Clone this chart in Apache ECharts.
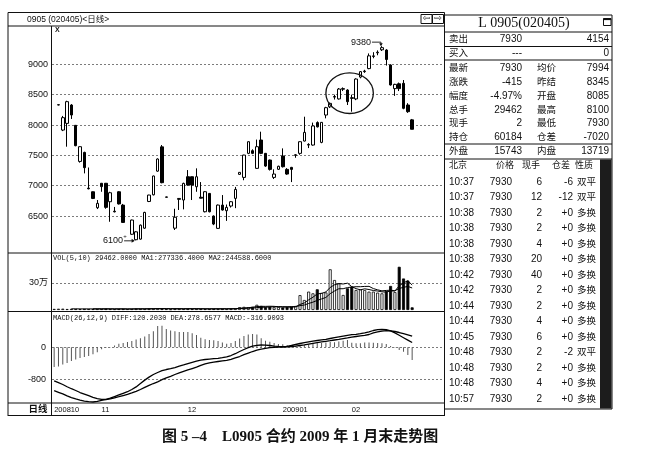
<!DOCTYPE html>
<html><head><meta charset="utf-8">
<script src="https://cdn.jsdelivr.net/npm/echarts@6/dist/echarts.min.js"></script>
<style>html,body{margin:0;padding:0;background:#fff}#c{width:651px;height:469px}</style>
</head><body><div id="c"></div>
<script>
// ---------- data ----------
const slotCount = 91;                       // category slots on the time axis
const tickIdx = [0, 11, 31, 53, 69];
const tickLabels = ['200810', '11', '12', '200901', '02'];
const priceTicks = [6500, 7000, 7500, 8000, 8500, 9000];
const volTicks = [300];                      // thousands (30万)
const macdTicks = [0, -800];
const GAP = ['-', '-', '-', '-'];
// [open, close, low, high]
const candles = [
  GAP,
  [8330,8335,8325,8340],[7917,8121,7900,8150],[8027,8385,7643,8400],[8330,8165,8100,8345],[7995,7660,7650,8000],
  [7400,7643,7380,7650],[7549,7297,7203,7560],[6960,6950,6940,7300],[6900,6790,6780,6905],[6637,6709,6615,6764],
  [7040,6985,6900,7045],[7040,6643,6620,7045],[6736,6884,6406,6900],[6580,6570,6560,6650],[6900,6700,6690,6910],
  [6680,6395,6390,6700],GAP,[6200,6434,6190,6440],[6110,6240,6100,6250],[6120,6350,6110,6360],
  [6300,6560,6290,6570],[6740,6846,6730,6850],[6850,7160,6840,7165],[7240,7440,7230,7450],[7640,7050,7040,7670],
  [6815,6810,6805,6820],GAP,[6300,6480,6270,6620],[6775,6790,6600,6795],[6764,7038,6610,7050],
  [7148,7011,7000,7258],[7148,7011,6764,7150],[6983,7148,6900,7286],[6810,6795,6790,7060],[6571,6901,6560,6910],
  [6873,6571,6560,6880],[6500,6368,6350,6510],[6297,6681,6290,6690],[6681,6599,6590,6846],[6588,6643,6420,6690],
  [6665,6736,6640,6745],[6791,6939,6630,6980],[7187,7220,7180,7225],[7137,7505,7090,7510],[7533,7725,7520,7730],
  [7577,7533,7520,7600],[7286,7643,7280,7760],[7753,7533,7520,7890],[7533,7324,7310,7540],[7423,7269,7250,7430],
  [7137,7192,7110,7270],[7270,7320,7260,7330],[7489,7313,7300,7615],[7269,7192,7180,7290],[7302,7269,7060,7310],
  [7500,7510,7460,7520],[7533,7725,7510,7730],[7736,7879,7730,8137],[7670,7680,7620,7700],[7670,7985,7660,8040],
  [8040,7970,7960,8060],[7714,8044,7700,8050],[8165,8286,8110,8300],[8300,8357,8280,8370],[8460,8470,8420,8500],
  [8430,8593,8420,8610],[8590,8600,8560,8620],[8577,8385,8330,8590],[8450,8440,8220,8500],[8430,8758,8410,8770],
  [8790,8880,8770,8890],[8880,8890,8860,8910],[8930,9140,8920,9180],[9130,9140,9100,9200],[9190,9200,9150,9230],
  [9240,9275,9220,9300],[9236,9080,8980,9250],[8989,8660,8650,9000],[8600,8670,8480,8680],[8680,8600,8560,8700],
  [8687,8275,8260,8742],[8330,8220,8200,8360],[8085,7930,7930,8100]
];
// volume, thousands of lots
const volume = [12,14,15,11,13,12,10,14,12,11, 13,12,15,11,9,12,13,10,12,16,
  14,13,15,17,19,14,12,8,15,16, 13,14,12,15,13,11,12,14,13,16,
  12,15,18,32,35,30,36,58,45,33, 37,30,34,28,32,38,45,165,111,204,
  185,230,190,195,452,333,296,167,241,260, 222,230,222,204,204,193,185,210,267.2,200,
  480,350,327.2,29.5];
const volMA5 = ['-','-','-','-',13,13,12.2,12,12.2,11.8, 12,12.4,12.6,12.4,12,11.8,12,11,11.2,12.6,
  13,13,14,15,15.6,15.6,15.4,14,13.6,13, 12.8,13.2,14,14,13.4,13,12.6,13,12.6,13.2,
  13.4,14,14.8,18.6,22.4,26,30.2,38.2,40.8,40.4, 41.8,40.6,35.8,32.4,32.2,32.4,35.4,61.6,78.2,112.6,
  142,179,184,200.8,250.4,280,293.2,288.6,297.8,259.4, 237.2,224,235,227.6,216.4,210.6,201.6,199.2,211.8,211,
  268.4,301.4,324.9,277.3];
const volMA10 = ['-','-','-','-','-','-','-','-','-',12.4, 12.5,12.3,12.3,12.3,11.9,11.9,12.2,11.8,11.8,12.3,
  12.4,12.5,12.5,13.1,14.1,14.3,14.2,14,14.3,14.3, 14.2,14.3,14,13.8,13.2,12.9,12.9,13.5,13.3,13.3,
  13.2,13.3,13.9,15.6,17.8,19.7,22.1,26.5,29.7,31.4, 33.9,35.4,37,36.6,36.3,37.1,38,48.7,55.3,72.4,
  87.2,107.2,122.8,139.5,181.5,211,236.1,236.3,249.3,254.9, 258.6,258.6,261.8,262.7,237.9,223.9,212.8,217.1,219.7,213.7,
  239.5,251.5,262.1,244.6];
const macdBar = [-492,-480,-430,-390,-345,-305,-270,-242,-220,-175, -125,-50,-15,5,45,90,108,135,160,195,
  225,270,335,400,530,540,460,420,400,383, 383,383,350,310,240,200,180,175,160,120,
  92,108,158,220,285,320,333,320,225,167, 140,110,85,75,60,58,42,35,60,78,
  100,100,105,120,130,125,145,165,180,117, 100,100,118,122,117,105,100,85,35,-8,
  -67,-110,-192,-316.9];
const diff = [-1085,-1125,-1165,-1215,-1255,-1290,-1320,-1345,-1360,-1367, -1350,-1325,-1300,-1270,-1230,-1190,-1150,-1110,-1055,-990,
  -905,-820,-745,-680,-630,-585,-555,-535,-505,-470, -440,-405,-375,-345,-320,-305,-295,-285,-275,-260,
  -240,-205,-160,-105,-55,-10,30,50,58,55, 45,32,22,15,25,45,70,95,115,135,
  155,170,185,200,220,240,260,280,300,315, 325,340,360,385,420,440,450,440,410,360,
  300,240,180,120.2];
const dea = [-840,-885,-930,-985,-1035,-1080,-1130,-1170,-1210,-1250, -1280,-1300,-1305,-1290,-1262,-1235,-1205,-1175,-1140,-1100,
  -1055,-1000,-950,-905,-865,-810,-765,-725,-680,-640, -600,-565,-530,-495,-450,-415,-390,-370,-355,-340,
  -325,-300,-265,-230,-185,-145,-105,-70,-45,-25, -10,0,5,8,12,20,30,45,60,80,
  100,118,135,150,165,183,200,218,235,255, 270,285,300,320,360,385,405,415,410,395,
  370,340,310,278.7];
const highMark = { idx: 76, label: '9380' };
const lowMark = { idx: 19, label: '6100' };
const circled = { from: [63, 8860], to: [74, 8190] };

// side panel
const panelTitle = 'L 0905(020405)';
const quoteTop = [['卖出','7930','4154'], ['买入','---','0']];
const quoteRows = [['最新','7930','均价','7994'], ['涨跌','-415','昨结','8345'], ['幅度','-4.97%','开盘','8085'],
  ['总手','29462','最高','8100'], ['现手','2','最低','7930'], ['持仓','60184','仓差','-7020']];
const outerRow = ['外盘','15743','内盘','13719'];
const tradeHeader = ['北京','价格','现手','仓差','性质'];
const trades = [['10:37','7930','6','-6','双平'], ['10:37','7930','12','-12','双平'],
  ['10:38','7930','2','+0','多换'], ['10:38','7930','2','+0','多换'], ['10:38','7930','4','+0','多换'],
  ['10:38','7930','20','+0','多换'], ['10:42','7930','40','+0','多换'], ['10:42','7930','2','+0','多换'],
  ['10:44','7930','2','+0','多换'], ['10:44','7930','4','+0','多换'], ['10:45','7930','6','+0','多换'],
  ['10:48','7930','2','-2','双平'], ['10:48','7930','2','+0','多换'], ['10:48','7930','4','+0','多换'],
  ['10:57','7930','2','+0','多换']];
const windowTitle = '0905 (020405)<日线>';
const volHeader = 'VOL(5,10) 29462.0000 MA1:277336.4000 MA2:244588.6000';
const macdHeader = 'MACD(26,12,9) DIFF:120.2030 DEA:278.6577 MACD:-316.9093';
const caption = '图 5 –4    L0905 合约 2009 年 1 月末走势图';

// ---------- build ----------
const cats = Array.from({length: slotCount}, (_, i) => String(i));
const SANS = '"Liberation Sans","Noto Sans CJK SC",sans-serif';
const MONO = '"Liberation Mono","DejaVu Sans Mono",monospace';
const INK = '#111';

function T(text, x, y, size, align, font, extra) {
  return Object.assign({ type: 'text', silent: true, z: 100,
    style: { text: text, x: x, y: y, font: (font || (size + 'px ' + SANS)), fill: INK,
      textAlign: align || 'left', align: align || 'left', textVerticalAlign: 'middle', verticalAlign: 'middle' } }, extra || {});
}
function Ln(x1, y1, x2, y2, w) {
  return { type: 'line', silent: true, z: 100, shape: { x1: x1, y1: y1, x2: x2, y2: y2 }, style: { stroke: INK, lineWidth: w || 1 } };
}
const dashStyle = { type: [2, 2], color: '#444', width: 0.7 };
function gridLines(vals) {
  return { silent: true, symbol: 'none', z: 1, label: { show: false }, lineStyle: dashStyle,
    emphasis: { disabled: true }, data: vals.map(v => ({ yAxis: v })) };
}

const volData = volume.map((v, i) => {
  const c = candles[i];
  const up = c[0] === '-' || c[1] >= c[0];
  return { value: v, itemStyle: { color: up ? '#fff' : '#000', borderColor: '#000', borderWidth: 0.8 } };
});

const g = [];
// left frame
g.push(Ln(8, 12.5, 444.5, 12.5), Ln(8, 12.5, 8, 416), Ln(8, 26, 444.5, 26), Ln(51.5, 26, 51.5, 416),
  Ln(8, 253, 444.5, 253), Ln(8, 311.5, 444.5, 311.5), Ln(8, 403, 444.5, 403), Ln(8, 415.5, 444.5, 415.5),
  Ln(444.5, 12.5, 444.5, 416));
g.push(T(windowTitle, 27, 19.5, 8.5));
g.push({ type: 'rect', silent: true, z: 100, shape: { x: 421, y: 14.5, width: 11, height: 9 }, style: { fill: '#fff', stroke: INK, lineWidth: 1 } });
g.push({ type: 'rect', silent: true, z: 100, shape: { x: 432.5, y: 14.5, width: 11, height: 9 }, style: { fill: '#fff', stroke: INK, lineWidth: 1 } });
g.push(T('⇦', 426.5, 19, 9, 'center', '9px "DejaVu Sans",sans-serif'), T('⇨', 438, 19, 9, 'center', '9px "DejaVu Sans",sans-serif'));
g.push(T('X', 55, 30.5, 7, 'left', 'bold 7px ' + SANS));
g.push(T(volHeader, 53, 258.5, 7, 'left', '7px ' + MONO));
g.push(T(macdHeader, 53, 318, 7, 'left', '7px ' + MONO));
g.push(T('日线', 38, 409.5, 9, 'center', 'bold 9.5px ' + SANS));
// side panel frame
g.push(Ln(444.5, 15, 612, 15), Ln(612, 15, 612, 409), Ln(444.5, 409, 612, 409),
  Ln(444.5, 32, 612, 32), Ln(444.5, 46.5, 612, 46.5), Ln(444.5, 60, 612, 60),
  Ln(444.5, 144, 612, 144), Ln(444.5, 159, 612, 159));
g.push(T(panelTitle, 524, 23.5, 14, 'center', '14px "Liberation Serif",serif'));
g.push({ type: 'rect', silent: true, z: 100, shape: { x: 603.5, y: 18.5, width: 7.5, height: 7 }, style: { fill: '#fff', stroke: INK, lineWidth: 1 } });
g.push(Ln(603.5, 19.2, 611, 19.2, 1.8));
g.push({ type: 'rect', silent: true, z: 90, shape: { x: 600, y: 159.5, width: 11.5, height: 249 }, style: { fill: '#1c1c1c' } });
const FS = 10;
const CJK = '9.5px ' + SANS;
[39.5, 53].forEach((y, r) => {
  const row = quoteTop[r];
  g.push(T(row[0], 449, y, FS, 'left', CJK), T(row[1], 522, y, FS, 'right'), T(row[2], 609, y, FS, 'right'));
});
[68, 82, 96, 110, 123.5, 137].forEach((y, r) => {
  const row = quoteRows[r];
  g.push(T(row[0], 449, y, FS, 'left', CJK), T(row[1], 522, y, FS, 'right'), T(row[2], 537, y, FS, 'left', CJK), T(row[3], 609, y, FS, 'right'));
});
g.push(T(outerRow[0], 449, 151.5, FS, 'left', CJK), T(outerRow[1], 522, 151.5, FS, 'right'), T(outerRow[2], 537, 151.5, FS, 'left', CJK), T(outerRow[3], 609, 151.5, FS, 'right'));
[449, 496, 522, 552, 575].forEach((x, k) => g.push(T(tradeHeader[k], x, 166, FS, 'left', '9px ' + SANS)));
trades.forEach((row, r) => {
  const y = 182 + r * 15.5;
  g.push(T(row[0], 449, y, FS), T(row[1], 512, y, FS, 'right'), T(row[2], 542, y, FS, 'right'),
    T(row[3], 573, y, FS, 'right'), T(row[4], 577, y, FS, 'left', CJK));
});
g.push(T(caption, 162, 437, 15, 'left', 'bold 15px "Liberation Serif","Noto Sans CJK SC",serif'));

function xAxisFor(i) {
  return { type: 'category', gridIndex: i, data: cats, boundaryGap: true,
    axisLine: { show: false }, axisTick: { show: false }, splitLine: { show: false },
    axisLabel: i === 2 ? {
      show: true, fontSize: 7.5, color: INK, margin: 3, align: 'left', fontFamily: SANS,
      interval: (idx) => tickIdx.indexOf(idx) >= 0,
      formatter: (v, idx) => { const k = tickIdx.indexOf(idx); return k >= 0 ? tickLabels[k] : ''; }
    } : { show: false } };
}
function yAxisFor(i, min, max, ticks, margin, fmt) {
  return { type: 'value', gridIndex: i, min: min, max: max, scale: true,
    axisLine: { show: false }, axisTick: { show: false }, splitLine: { show: false },
    axisLabel: { customValues: ticks, fontSize: 9, color: INK, margin: margin, fontFamily: SANS, formatter: fmt } };
}

const option = {
  animation: false,
  backgroundColor: '#fff',
  grid: [
    { left: 52, top: 26, width: 392.5, height: 227 },
    { left: 52, top: 253, width: 392.5, height: 57 },
    { left: 52, top: 311.5, width: 392.5, height: 91.5 }
  ],
  xAxis: [xAxisFor(0), xAxisFor(1), xAxisFor(2)],
  yAxis: [
    yAxisFor(0, 5891, 9632, priceTicks, 4, v => String(v)),
    yAxisFor(1, 0, 633, volTicks, 4, v => (v / 10) + '万'),
    yAxisFor(2, -1392, 895, macdTicks, 6, v => String(v))
  ],
  series: [
    { type: 'candlestick', xAxisIndex: 0, yAxisIndex: 0, data: candles, barWidth: 3, z: 3,
      itemStyle: { color: '#fff', color0: '#000', borderColor: '#000', borderColor0: '#000', borderWidth: 1 },
      markLine: gridLines(priceTicks) },
    { type: 'bar', xAxisIndex: 1, yAxisIndex: 1, data: volData, barWidth: 3, z: 3, markLine: gridLines(volTicks) },
    { type: 'line', xAxisIndex: 1, yAxisIndex: 1, data: volMA5, symbol: 'none', z: 4, lineStyle: { color: '#000', width: 1 } },
    { type: 'line', xAxisIndex: 1, yAxisIndex: 1, data: volMA10, symbol: 'none', z: 4, lineStyle: { color: '#000', width: 1 } },
    { type: 'bar', xAxisIndex: 2, yAxisIndex: 2, data: macdBar, barWidth: 1, z: 3, itemStyle: { color: '#555' }, markLine: gridLines(macdTicks) },
    { type: 'line', xAxisIndex: 2, yAxisIndex: 2, data: diff, symbol: 'none', z: 4, lineStyle: { color: '#000', width: 1.3 } },
    { type: 'line', xAxisIndex: 2, yAxisIndex: 2, data: dea, symbol: 'none', z: 4, lineStyle: { color: '#000', width: 1.3 } }
  ],
  graphic: { elements: g }
};

const chart = echarts.init(document.getElementById('c'), null, { renderer: 'canvas', width: 651, height: 469 });
chart.setOption(option);

// annotations placed through the chart's own scales
const extra = [];
const a = chart.convertToPixel({ gridIndex: 0 }, circled.from);
const b = chart.convertToPixel({ gridIndex: 0 }, circled.to);
extra.push({ id: 'circle', type: 'ellipse', silent: true, z: 100,
  shape: { cx: (a[0] + b[0]) / 2, cy: (a[1] + b[1]) / 2, rx: Math.abs(b[0] - a[0]) / 2, ry: Math.abs(b[1] - a[1]) / 2 },
  style: { fill: 'none', stroke: INK, lineWidth: 1.3 } });
const hc = candles[highMark.idx];
const hp = chart.convertToPixel({ gridIndex: 0 }, [highMark.idx, hc[3]]);
const hy = hp[1] - 4;
extra.push(Object.assign(T(highMark.label, hp[0] - 11, hy, 9, 'right'), { id: 'hiT' }));
extra.push({ id: 'hiA', type: 'polyline', silent: true, z: 100, shape: { points: [[hp[0] - 10, hy], [hp[0] - 1, hy], [hp[0] - 1, hp[1] - 1]] }, style: { stroke: INK, fill: 'none', lineWidth: 0.9 } });
extra.push({ id: 'hiH', type: 'polygon', silent: true, z: 100, shape: { points: [[hp[0] - 2.8, hp[1] - 3], [hp[0] + 0.8, hp[1] - 3], [hp[0] - 1, hp[1]]] }, style: { fill: INK } });
const lc = candles[lowMark.idx];
const lp = chart.convertToPixel({ gridIndex: 0 }, [lowMark.idx, lc[2]]);
extra.push(Object.assign(T(lowMark.label, lp[0] - 13, lp[1], 9, 'right'), { id: 'loT' }));
extra.push({ id: 'loA', type: 'line', silent: true, z: 100, shape: { x1: lp[0] - 12, y1: lp[1] + 0.5, x2: lp[0] - 2, y2: lp[1] + 0.5 }, style: { stroke: INK, lineWidth: 0.9 } });
extra.push({ id: 'loH', type: 'polygon', silent: true, z: 100, shape: { points: [[lp[0] - 4.5, lp[1] - 1.5], [lp[0] - 4.5, lp[1] + 2.5], [lp[0] - 1.5, lp[1] + 0.5]] }, style: { fill: INK } });
extra.push(Object.assign(T('+', lp[0] - 11, lp[1] - 3.5, 6, 'center'), { id: 'loP' }));
chart.setOption({ graphic: { elements: extra } });
</script></body></html>
